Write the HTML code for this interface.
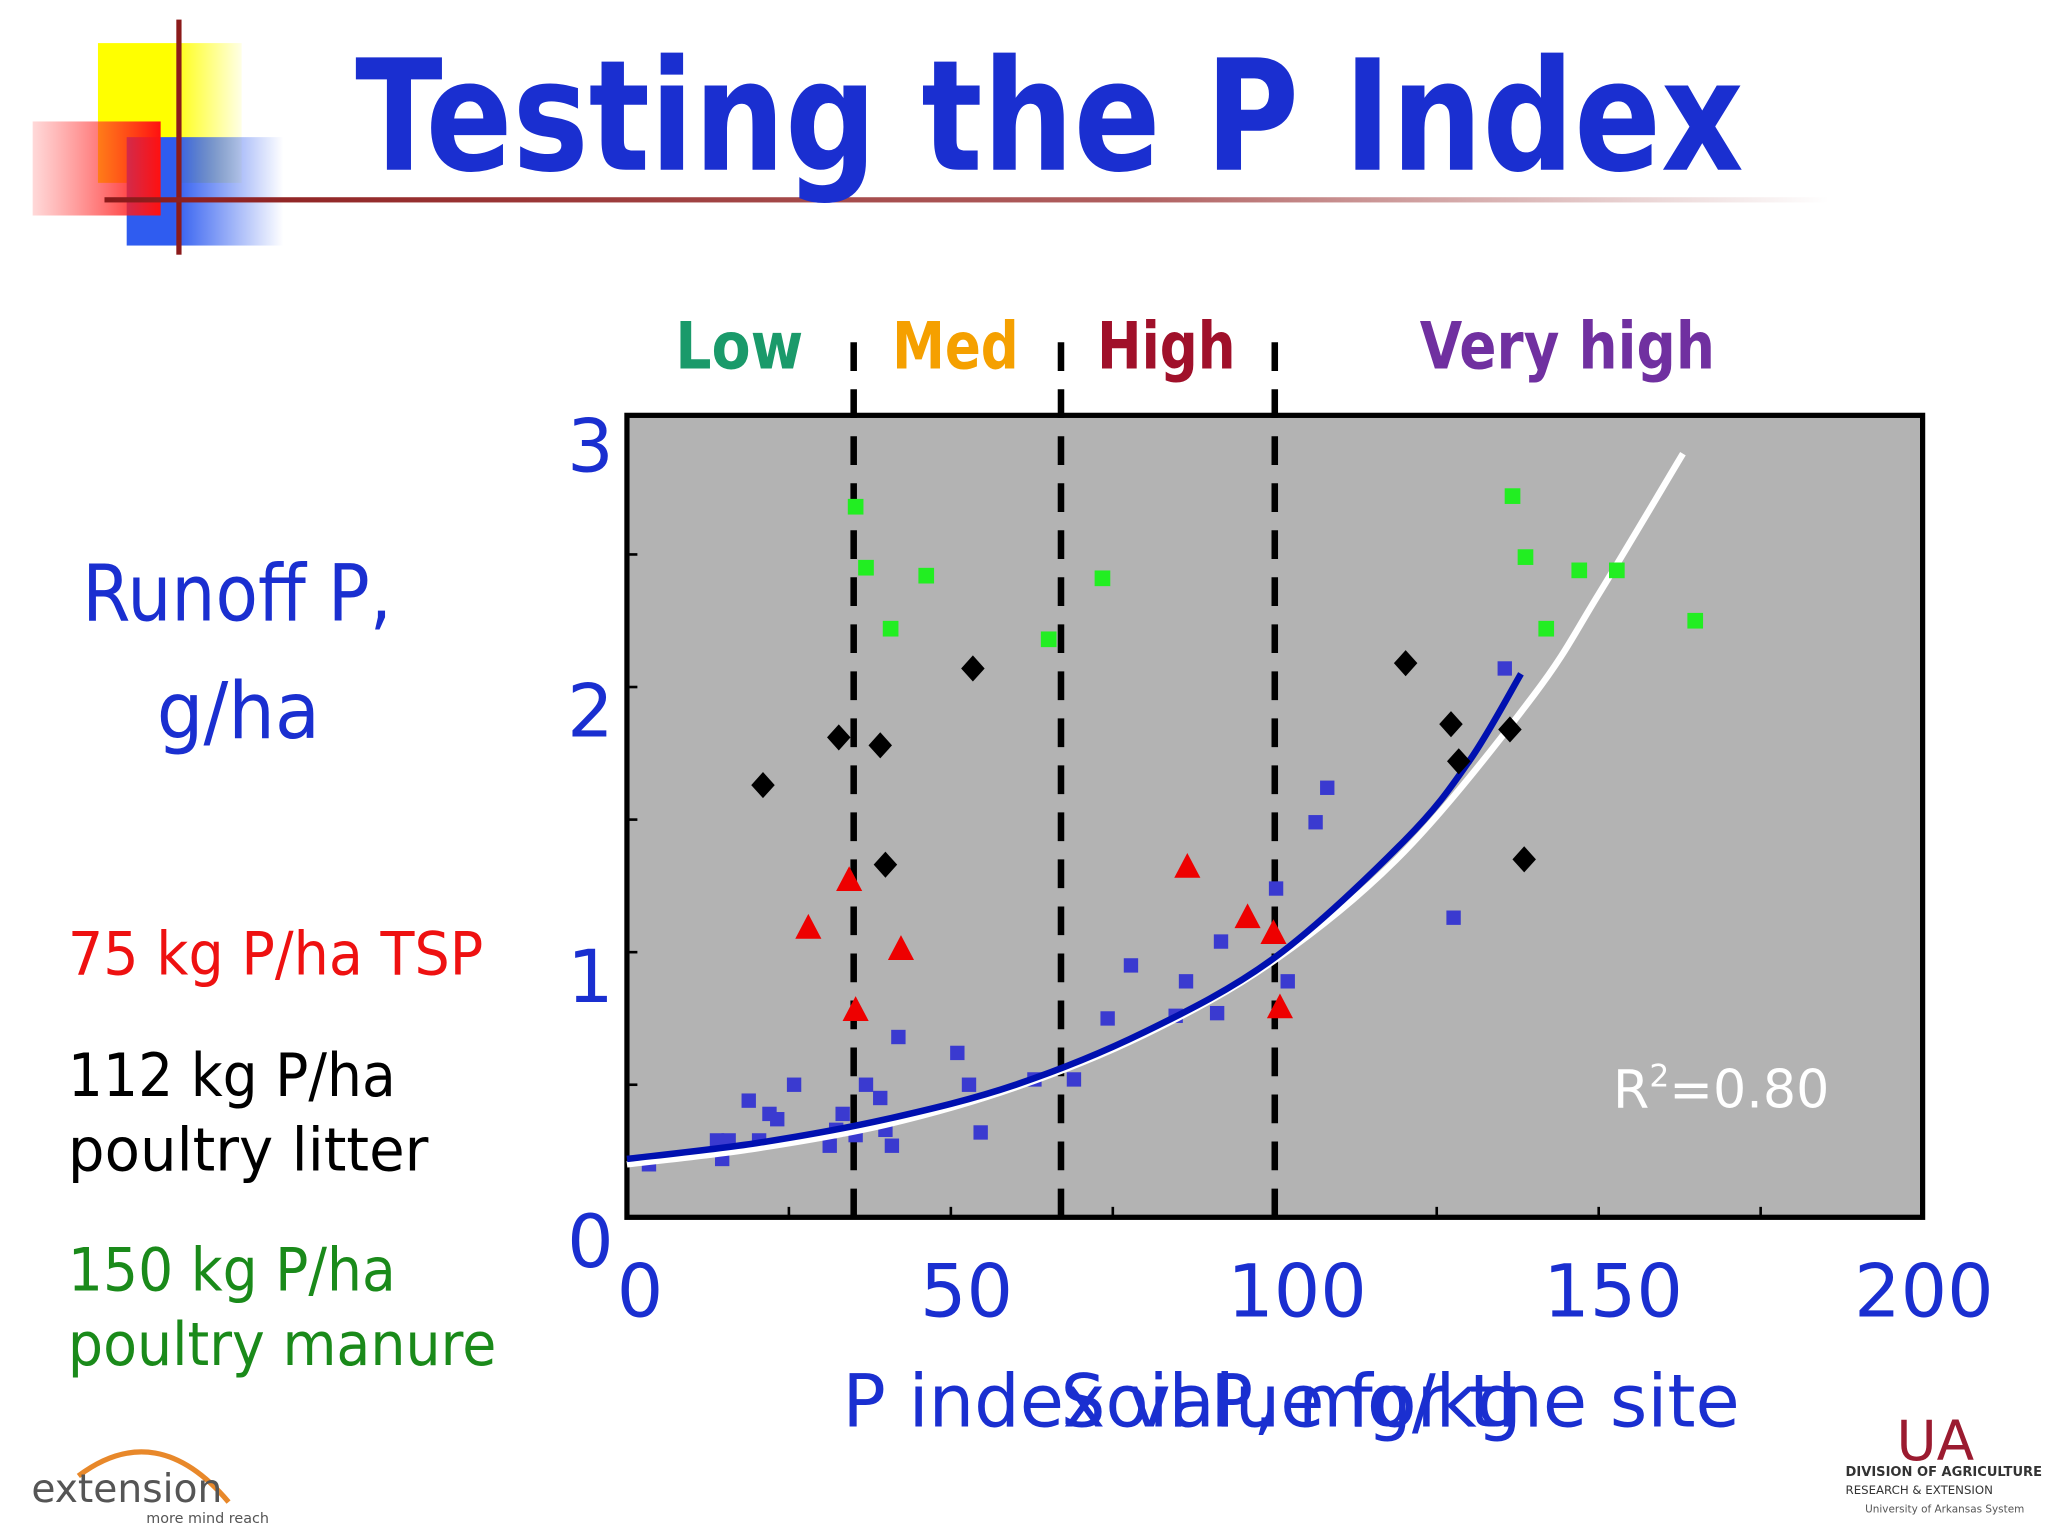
<!DOCTYPE html>
<html><head><meta charset="utf-8"><style>
html,body{margin:0;padding:0;background:#fff;}
svg{display:block;}
text{font-family:"DejaVu Sans","Liberation Sans",sans-serif;}
</style></head><body>
<svg id="chart" width="2048" height="1536" viewBox="0 0 1568 1176" xmlns="http://www.w3.org/2000/svg">
<defs>
<linearGradient id="redg" x1="0" x2="1"><stop offset="0" stop-color="#ff4040" stop-opacity="0.2"/><stop offset="1" stop-color="#ff1010"/></linearGradient>
<linearGradient id="blueg" x1="0" x2="1"><stop offset="0.3" stop-color="#2f5cf0"/><stop offset="1" stop-color="#2f5cf0" stop-opacity="0"/></linearGradient>
<linearGradient id="yelg" x1="0" x2="1"><stop offset="0.5" stop-color="#ffff00"/><stop offset="1" stop-color="#ffff00" stop-opacity="0.1"/></linearGradient>
<linearGradient id="lineg" x1="0" x2="1"><stop offset="0" stop-color="#8b1a1a"/><stop offset="0.6" stop-color="#b06060"/><stop offset="1" stop-color="#fff"/></linearGradient>
</defs>
<g>
<rect x="75" y="33" width="110" height="107" fill="url(#yelg)"/>
<rect x="97" y="105" width="120" height="83" fill="url(#blueg)"/>
<rect x="25" y="93" width="98" height="72" fill="url(#redg)"/>
<rect x="135" y="15" width="4" height="180" fill="#8b1a1a"/>
<rect x="80" y="151" width="1320" height="4" fill="url(#lineg)"/>
</g>
<text x="272" y="130" font-size="118" font-weight="bold" fill="#1a2fd0" textLength="1063" lengthAdjust="spacingAndGlyphs">Testing the P Index</text>

<g font-size="50" font-weight="bold">
<text x="517" y="282" fill="#1a9a6a" textLength="98" lengthAdjust="spacingAndGlyphs">Low</text>
<text x="683" y="282" fill="#f5a000" textLength="97" lengthAdjust="spacingAndGlyphs">Med</text>
<text x="840" y="282" fill="#a0102a" textLength="106" lengthAdjust="spacingAndGlyphs">High</text>
<text x="1087" y="282" fill="#7030a0" textLength="226" lengthAdjust="spacingAndGlyphs">Very high</text>
</g>

<rect x="480" y="318" width="992" height="614" fill="#b3b3b3" stroke="#000" stroke-width="4"/>
<g id="axes"></g>
<g id="marks"></g>

<text x="1235" y="848" font-size="40" fill="#fff">R<tspan font-size="24" dy="-16">2</tspan><tspan dy="16">=0.80</tspan></text>

<g font-size="60" fill="#1a2fd0">
<text x="63" y="475" textLength="237" lengthAdjust="spacingAndGlyphs">Runoff P,</text>
<text x="120" y="565" textLength="125" lengthAdjust="spacingAndGlyphs">g/ha</text>
</g>
<text x="645" y="1092" font-size="56" fill="#1a2fd0" textLength="687" lengthAdjust="spacingAndGlyphs">P index value for the site</text>
<text x="812" y="1092" font-size="56" fill="#1a2fd0" textLength="353" lengthAdjust="spacingAndGlyphs">Soil P, mg/kg</text>

<g font-size="46">
<text x="52" y="746" fill="#ee1111" textLength="318" lengthAdjust="spacingAndGlyphs">75 kg P/ha TSP</text>
<text x="52" y="839" fill="#000" textLength="251" lengthAdjust="spacingAndGlyphs">112 kg P/ha</text>
<text x="52" y="896" fill="#000" textLength="276" lengthAdjust="spacingAndGlyphs">poultry litter</text>
<text x="52" y="988" fill="#1a8a1a" textLength="251" lengthAdjust="spacingAndGlyphs">150 kg P/ha</text>
<text x="52" y="1045" fill="#1a8a1a" textLength="328" lengthAdjust="spacingAndGlyphs">poultry manure</text>
</g>

<g>
<path d="M60 1130 Q120 1085 175 1150" fill="none" stroke="#e8882a" stroke-width="4"/>
<text x="24" y="1150" font-size="30" fill="#555">extension</text>
<text x="112" y="1166" font-size="11" fill="#555">more mind reach</text>
</g>
<g>
<text x="1452" y="1118" font-size="42" fill="#9b1b30" font-family="Liberation Serif,serif">UA</text>
<text x="1413" y="1130" font-size="10" font-weight="bold" fill="#333" font-family="Liberation Serif,serif">DIVISION OF AGRICULTURE</text>
<text x="1413" y="1144" font-size="9" fill="#333" font-family="Liberation Serif,serif">RESEARCH &amp; EXTENSION</text>
<text x="1428" y="1158" font-size="8" fill="#555" font-family="Liberation Serif,serif">University of Arkansas System</text>
</g>
</svg>
<script>
const xTicks=[0,50,100,150,200];
const yTicks=[0,1,2,3];
const boundaries=[35,67,100];
const manureX=[35.3,36.9,46.2,40.7,65.1,73.4,136.7,138.7,147,152.8,141.9,164.9];
const manureY=[2.68,2.45,2.42,2.22,2.18,2.41,2.72,2.49,2.44,2.44,2.22,2.25];
const litterX=[21,32.7,39.1,53.4,39.9,120.2,127.2,128.4,136.3,138.5];
const litterY=[1.63,1.81,1.78,2.07,1.33,2.09,1.86,1.72,1.84,1.35];
const tspX=[28,34.3,42.3,35.3,86.5,95.8,99.8,100.8];
const tspY=[1.09,1.27,1.01,0.78,1.32,1.13,1.07,0.79];
const soilX=[3.4,13.9,15.7,14.7,18.8,22,23.2,20.4,25.8,31.3,32.3,33.3,35.3,36.9,39.1,40.9,39.9,41.9,51,52.8,54.6,62.9,69,74.2,77.8,84.7,86.3,91.1,91.7,100.2,102,106.3,108.1,127.6,135.5];
const soilY=[0.2,0.29,0.29,0.22,0.44,0.39,0.37,0.29,0.5,0.27,0.33,0.39,0.31,0.5,0.45,0.27,0.33,0.68,0.62,0.5,0.32,0.52,0.52,0.75,0.95,0.76,0.89,0.77,1.04,1.24,0.89,1.49,1.62,1.13,2.07];
const blueFitX=[0,20,40,60,80,100,120,130,138];
const blueFitY=[0.22,0.28,0.37,0.5,0.7,0.98,1.42,1.72,2.05];
const whiteFitX=[0,20,40,60,80,100,120,140,150,163];
const whiteFitY=[0.2,0.26,0.35,0.49,0.69,0.97,1.38,1.97,2.35,2.88];

const X0=480,X1=1472,Y0=932,YU=203;
const sx=v=>X0+(X1-X0)*v/200;
const sy=v=>Y0-YU*v;
const NS='http://www.w3.org/2000/svg';
function mk(tag,parent,attrs){const e=document.createElementNS(NS,tag);for(const k in attrs)e.setAttribute(k,attrs[k]);parent.appendChild(e);return e;}
const axes=document.getElementById('axes'),marks=document.getElementById('marks');

for(let v=25;v<200;v+=25){
  const t=mk('line',axes,{x1:sx(v),x2:sx(v),y1:Y0,y2:Y0-8,stroke:'#000','stroke-width':2});
  
  
}
for(let v=0.5;v<3;v+=0.5){
  const t=mk('line',axes,{x1:X0,x2:X0+8,y1:sy(v),y2:sy(v),stroke:'#000','stroke-width':2});
  
  
}
const xLabelPos={0:490,50:740,100:993,150:1235,200:1473};
xTicks.forEach(v=>{
  const t=mk('text',axes,{x:xLabelPos[v]!==undefined?xLabelPos[v]:sx(v),y:1008,'font-size':56,fill:'#1a2fd0','text-anchor':'middle'});
  t.textContent=v;
  
  
});
yTicks.forEach(v=>{
  const t=mk('text',axes,{x:452,y:sy(v)+38,'font-size':56,fill:'#1a2fd0','text-anchor':'middle'});
  t.textContent=v;
  
  
});
boundaries.forEach(v=>{
  const l=mk('line',marks,{x1:sx(v),x2:sx(v),y1:262,y2:Y0,stroke:'#000','stroke-width':5,'stroke-dasharray':'22 14'});
  
  
});
soilX.forEach((x,i)=>{
  const r=mk('rect',marks,{x:sx(x)-5.5,y:sy(soilY[i])-5.5,width:11,height:11,fill:'#3a3ad0'});
  
  
});
function smooth(xs,ys){
  const p=xs.map((x,i)=>[sx(x),sy(ys[i])]);
  let d='M'+p[0][0].toFixed(1)+' '+p[0][1].toFixed(1);
  for(let i=0;i<p.length-1;i++){
    const p0=p[Math.max(0,i-1)],p1=p[i],p2=p[i+1],p3=p[Math.min(p.length-1,i+2)];
    const c1=[p1[0]+(p2[0]-p0[0])/6,p1[1]+(p2[1]-p0[1])/6];
    const c2=[p2[0]-(p3[0]-p1[0])/6,p2[1]-(p3[1]-p1[1])/6];
    d+=` C${c1[0].toFixed(1)} ${c1[1].toFixed(1)} ${c2[0].toFixed(1)} ${c2[1].toFixed(1)} ${p2[0].toFixed(1)} ${p2[1].toFixed(1)}`;
  }
  return d;
}
const wl=mk('path',marks,{d:smooth(whiteFitX,whiteFitY),fill:'none',stroke:'#fff','stroke-width':5});


const bl=mk('path',marks,{d:smooth(blueFitX,blueFitY),fill:'none',stroke:'#0010b0','stroke-width':5});


manureX.forEach((x,i)=>{
  const r=mk('rect',marks,{x:sx(x)-6,y:sy(manureY[i])-6,width:12,height:12,fill:'#22ee22'});
  
  
});
litterX.forEach((x,i)=>{
  const cx=sx(x),cy=sy(litterY[i]);
  const p=mk('polygon',marks,{points:`${cx},${cy-10} ${cx+9},${cy} ${cx},${cy+10} ${cx-9},${cy}`,fill:'#000'});
  
  
});
tspX.forEach((x,i)=>{
  const cx=sx(x),cy=sy(tspY[i]);
  const p=mk('polygon',marks,{points:`${cx},${cy-11} ${cx+10},${cy+8} ${cx-10},${cy+8}`,fill:'#ee0000'});
  
  
});
</script>
</body></html>
